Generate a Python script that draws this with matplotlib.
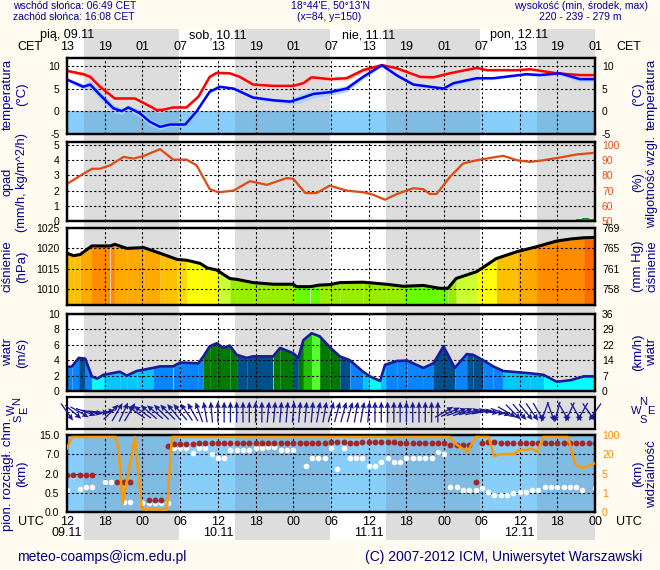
import numpy as np
import matplotlib
matplotlib.use("Agg")
import matplotlib.pyplot as plt
from matplotlib.transforms import blended_transform_factory

plt.rcParams['font.family'] = ['Liberation Sans', 'DejaVu Sans']
plt.rcParams['axes.unicode_minus'] = False

# ------------------------------------------------------------------ data
# time axis: hours since 12 UTC 09.11
tick_hours = list(range(0, 85, 6))
utc_labels = ['12', '18', '00', '06', '12', '18', '00', '06', '12', '18', '00', '06', '12', '18', '00']
cet_labels = ['13', '19', '01', '07', '13', '19', '01', '07', '13', '19', '01', '07', '13', '19', '01']
day_hours = [0, 24, 48, 72]
day_names = ['pią, 09.11', 'sob, 10.11', 'nie, 11.11', 'pon, 12.11']
date_labels = ['09.11', '10.11', '11.11', '12.11']
night_start = [2.7, 26.7, 50.7, 74.7]
night_end = [17.8, 41.8, 65.7, 84.0]

# temperature (red) with spread
temp_h = [0, 2.6, 3.7, 5.25, 7.6, 10.8, 13.7, 14.2, 15.3, 16.9, 19.0, 20.9, 22.7, 23.8, 25.9, 27.5,
          29.6, 32.8, 36.0, 37.6, 38.9, 41.8, 44.5, 47.1, 50.1, 52.5, 56.2, 58.3, 60.9, 65.2, 66.8,
          71.6, 73.7, 77.9, 81.6, 84]
temp_v = [8.95, 8.2, 7.6, 5.4, 2.8, 2.8, 0.7, 0.2, 0.3, 0.8, 0.8, 3.2, 7.6, 8.5, 8.4, 7.6,
          5.9, 5.6, 5.6, 6.2, 7.5, 7.1, 7.3, 9.1, 10.2, 9.5, 7.6, 7.5, 8.4, 9.6, 9.1,
          9.1, 9.3, 8.4, 8.0, 8.0]
temp_sp = [0.3, 0.5, 0.8, 0.8, 0.4, 0.3, 0.4, 0.5, 0.5, 0.3, 0.3, 0.3, 0.3, 0.3, 0.3, 0.3,
           0.3, 0.3, 0.5, 0.9, 0.7, 0.4, 0.6, 0.6, 0.5, 0.3, 0.3, 0.3, 0.3, 0.3, 0.3,
           0.3, 0.3, 0.4, 0.5, 0.4]
# dew point (blue) with spread
dew_h = [0, 2.6, 3.7, 5.25, 7.4, 8.7, 9.75, 11.6, 13.2, 14.8, 16.4, 18.8, 20.6, 22.7, 24.3, 26.5,
         29.6, 32.8, 35.5, 37.1, 39.2, 41.8, 44.5, 47.1, 50.1, 52.5, 55.1, 56.7, 59.9, 61.5, 65.2,
         67.8, 73.1, 75.2, 78.4, 81.6, 84]
dew_v = [7.0, 5.4, 5.9, 3.6, 0.6, 0.0, 0.8, -0.5, -2.4, -3.5, -3.0, -3.0, -0.1, 4.3, 5.4, 5.0,
         3.0, 2.4, 2.1, 2.8, 3.8, 4.2, 5.0, 7.6, 10.2, 7.9, 5.9, 5.6, 5.0, 6.2, 7.3,
         7.3, 8.2, 8.0, 8.4, 7.1, 7.1]
dew_sp = [0.3, 0.6, 0.9, 1.0, 0.9, 0.7, 0.6, 0.8, 0.7, 0.6, 0.4, 0.3, 0.3, 0.3, 0.3, 0.3,
          0.4, 0.4, 0.6, 1.0, 0.9, 0.7, 0.7, 0.5, 0.3, 0.3, 0.3, 0.4, 0.5, 0.6, 0.4,
          0.3, 0.3, 0.3, 0.4, 0.6, 0.5]

# relative humidity (%)
hum_h = [0, 2.6, 4.0, 5.25, 6.9, 9.0, 10.6, 12.2, 14.8, 16.9, 19.0, 20.6, 22.7, 24.1, 26.5, 29.1,
         31.8, 34.9, 36.0, 37.9, 39.7, 41.8, 44.5, 47.1, 48.7, 50.6, 52.5, 55.1, 56.7, 57.7, 58.8,
         60.9, 63.0, 65.2, 68.3, 69.4, 71.6, 73.7, 75.8, 79.0, 81.1, 84]
hum_v = [74.4, 81.1, 84.4, 84.4, 86.7, 92.2, 91.1, 92.8, 97.3, 90.4, 90.4, 86.7, 71.0, 68.9, 70.0, 76.2,
         73.8, 78.2, 77.8, 68.4, 68.4, 73.3, 70.0, 68.9, 67.3, 64.0, 67.8, 71.6, 70.9, 67.8, 67.8,
         78.9, 87.8, 90.0, 92.2, 92.9, 90.0, 88.9, 90.0, 92.2, 93.8, 94.9]
# precipitation (mm/h), hourly
prec_h = [68, 70, 80, 81, 82, 83]
prec_v = [0.08, 0.07, 0.07, 0.12, 0.2, 0.15]

# pressure (hPa)
pres_h = [0, 1.06, 2.1, 3.95, 6.9, 7.6, 9.5, 12.2, 14.8, 17.5, 19.0, 21.2, 22.3, 23.8, 25.9, 27.0,
          29.6, 32.8, 36.0, 36.5, 38.7, 40.2, 41.8, 43.4, 47.1, 50.8, 53.5, 56.7, 59.3, 60.6, 61.9,
          65.2, 68.3, 71.6, 74.7, 77.9, 80.1, 82.2, 84]
pres_v = [1018.8, 1018.2, 1018.5, 1020.6, 1020.6, 1021.0, 1020.0, 1020.2, 1018.8, 1017.3, 1017.1,
          1016.3, 1015.2, 1014.7, 1012.6, 1012.4, 1011.6, 1011.2, 1011.2, 1010.6, 1010.6, 1011.0,
          1011.1, 1011.6, 1011.7, 1011.2, 1010.7, 1010.9, 1010.2, 1010.2, 1012.6, 1014.3, 1017.5,
          1019.2, 1020.4, 1021.8, 1022.3, 1022.6, 1022.7]
pres_levels = [1010.8, 1013.0, 1014.8, 1016.8, 1017.6, 1018.6, 1020.5, 1022.5]
pres_colors = ['#66FF00', '#99EE00', '#CCFF33', '#FFFF00', '#FFD700', '#FFC000', '#FFAA00',
               '#FF8C00', '#FF6A00']
mmhg_labels = ['758', '761', '765', '769']

# wind speed (m/s)
wind_h = [0, 0.8, 1.86, 2.9, 3.95, 4.8, 5.8, 8.4, 9.5, 11.1, 13.7, 14.8, 16.9, 18.0, 20.9, 21.7,
          22.7, 23.8, 24.9, 25.9, 27.0, 28.6, 29.6, 32.8, 33.9, 36.0, 36.8, 37.6, 38.9, 40.2, 41.8,
          43.4, 45.0, 47.1, 48.2, 49.8, 50.6, 52.5, 54.1, 56.7, 58.3, 59.9, 61.7, 63.6, 64.6, 66.2,
          67.8, 69.4, 73.7, 75.8, 77.9, 80.1, 82.2, 84]
wind_v = [3.1, 3.2, 4.3, 4.2, 1.9, 1.6, 2.1, 2.5, 2.0, 2.6, 3.0, 3.2, 3.2, 3.7, 3.6, 4.5,
          5.8, 6.2, 5.6, 5.9, 4.7, 4.3, 4.5, 4.5, 5.6, 4.9, 4.3, 6.6, 7.5, 7.1, 5.7,
          4.5, 4.0, 2.5, 1.9, 1.3, 3.4, 3.9, 3.95, 3.0, 3.6, 5.8, 3.0, 4.8, 4.7, 4.0,
          3.2, 2.6, 2.3, 2.1, 1.2, 1.4, 1.9, 1.9]
wind_levels = [2.0, 2.9, 4.2, 5.0, 6.5, 7.2]
wind_colors = ['#00FFFF', '#00C8FF', '#0A84FF', '#00508C', '#007A00', '#22C000', '#55FF33']
kmh_labels = ['0', '7', '14', '22', '29', '36']

# wind direction, hourly (arrow points to, degrees clockwise from north)
dir_deg = [145, 130, 120, 110, 100, 95, 80, 45, 30, 25, 30,
           305, 305, 310, 310, 315, 315, 320, 320, 325, 330, 340, 350,
           355, 0, 0, 0, 0, 0, 0, 0, 0, 5, 5, 5, 5, 5, 5, 5, 5, 10, 10,
           15, 15, 15, 15, 10, 10, 5,
           0, 0, 0, 0, 0, 0, 0, 0, 0, 0, 0,
           60, 65, 70, 70, 75, 75, 80,
           95, 100, 110, 120,
           135, 140, 140, 145, 150, 200, 160, 195, 150, 205, 150, 210, 145, 215]

# visibility (km)
vis_h = [0, 0.8, 7.8, 8.2, 8.85, 10.8, 11.9, 15.9, 16.7, 60.8, 62.1, 63.7, 65.0, 67.1, 67.9, 69.0,
         71.1, 71.9, 73.2, 73.9, 74.8, 75.8, 79.7, 80.8, 81.9, 84]
vis_v = [44, 92, 92, 38, 0.42, 92, 0.14, 0.12, 92, 92, 58, 30, 92, 92, 18.5, 21,
         21, 38, 38, 44, 30, 92, 92, 13, 9, 13]
nan = float('nan')
# cloud top (dark red) and cloud base (white), km, hourly h = 0..84
cloud_top = [1.9, 1.9, 1.9, 1.9, 1.9, nan, nan, nan, 1.36, 1.36, 1.36, nan, nan, 0.32, 0.32, 0.32,
             10.5, 11.2, 11.3, 11.3, 11.3, 11.8, 11.8, 11.8, 11.8, 11.8, 11.8, 11.8, 11.8, 11.8, 11.8,
             11.8, 11.8, 11.8, 11.8, 11.8, 11.8, 11.8, 11.8, 11.8, 11.8, 11.8,
             12.2, 12.2, 12.2, 11.5, 11.5, 12.2, 12.2, 12.2, 12.2, 12.2, 12.2, 11.5, 11.5, 11.5, 11.5,
             11.5, 11.5, 11.5, 11.5, 10.8, 10.8, 10.8, 10.8, 1.36, 11.5, 12.2, 12.2, 11.5, 11.5, 11.5,
             11.5, 11.5, 11.5, 11.5, 11.5, 11.5, 11.5, 11.5, 11.5, 11.5, 11.5, 11.5, 11.5]
cloud_base = [0.71, 1.8, 0.77, 0.97, 0.97, nan, 1.36, 1.36, 1.3, 0.27, 0.27, nan, 0.23, 0.23, 0.23,
              0.23, 0.23, 9.5, 9.5, 9.5, 7.6, 9.5, 9.8, 7.1, 5.95, 5.95, 8.8, 8.8, 8.8, 8.8, 9.5,
              9.5, 10.0, 10.0, 8.8, 8.8, 8.8, nan, 3.95, 5.95, 5.95, 5.95,
              9.5, 3.1, 9.5, 5.95, 5.95, 5.95, 3.95, 3.95, 4.9, 5.95, 4.9, 4.9, 5.95, 5.95, 5.95,
              5.95, 5.95, 7.8, 7.1, 0.97, 0.97, 0.71, 0.71, 0.75, 0.85, 0.53, 0.44, 0.44, 0.44, 0.5,
              0.57, 0.57, 0.7, 0.7, 0.97, 0.97, 0.97, 0.97, 0.97, 0.97, 0.7, nan, 0.9]
cloud_levels = [0.0, 0.5, 2.0, 7.0, 15.0]
cloud_ticklabels = ['0.0', '0.5', '2.0', '7.0', '15.0']
vis_levels = [0, 1, 5, 20, 100]

# ------------------------------------------------------------------ style
W, H = 660, 570
X0, X1 = 67, 595
CREAM = '#FFFBF0'
GREY = '#DDDDDD'
NAVY = '#00008B'
DAYBLUE = '#87CEFA'
NIGHTBLUE = '#7FBBE3'

fig = plt.figure(figsize=(W / 100, H / 100), dpi=100)
fig.patch.set_facecolor(CREAM)


def fy(y):
    return 1 - y / H


def add_ax(top, bottom, **kw):
    return fig.add_axes([X0 / W, 1 - bottom / H, (X1 - X0) / W, (bottom - top) / H], **kw)


def ftext(x, y, s, **kw):
    fig.text(x / W, fy(y), s, **kw)


segments = []
prev = 0.0
for a, b in zip(night_start, night_end):
    segments.append((prev, a, 'day'))
    segments.append((a, b, 'night'))
    prev = b
if prev < 84:
    segments.append((prev, 84, 'day'))


def style(ax, yt, ylim, labels=None):
    ax.set_xlim(0, 84)
    ax.set_ylim(*ylim)
    ax.set_facecolor('none')
    ax.set_xticks(tick_hours)
    ax.set_yticks(yt)
    if labels is not None:
        ax.set_yticklabels(labels)
    ax.tick_params(length=0, labelbottom=False, labelsize=7.5, pad=5.5)
    for s in ax.spines.values():
        s.set_linewidth(1.6)
        s.set_color('black')
    ax.set_axisbelow('line')
    ax.grid(True, color='black', linestyle=(0, (2, 2)), linewidth=0.8)


def twin(ax, ylim, yt, labels, color='black'):
    t = ax.twinx()
    t.set_ylim(*ylim)
    t.set_yticks(yt)
    t.set_yticklabels(labels, color=color)
    t.tick_params(length=0, labelsize=7.5, pad=5)
    for s in t.spines.values():
        s.set_linewidth(1.6)
    return t


# background column with night shading
axbg = fig.add_axes([X0 / W, fy(540), (X1 - X0) / W, (540 - 29) / H], zorder=-10)
axbg.set_xlim(0, 84)
axbg.set_ylim(0, 1)
axbg.axis('off')
axbg.axvspan(0, 84, color='white', lw=0, zorder=0)
for a, b in zip(night_start, night_end):
    axbg.axvspan(a, b, color=GREY, lw=0, zorder=1)

tr = blended_transform_factory(axbg.transData, fig.transFigure)
for h, s in zip(day_hours, day_names):
    axbg.text(h, fy(35), s, transform=tr, ha='center', va='center', fontsize=9)
for h, s in zip(tick_hours, cet_labels):
    axbg.text(h, fy(46.5), s, transform=tr, ha='center', va='center', fontsize=9)
for h, s in zip(tick_hours, utc_labels):
    axbg.text(h, fy(522), s, transform=tr, ha='center', va='center', fontsize=9)
for h, s in zip(day_hours, date_labels):
    axbg.text(h, fy(533.5), s, transform=tr, ha='center', va='center', fontsize=9)
ftext(30, 46.5, 'CET', ha='center', va='center', fontsize=9)
ftext(629, 46.5, 'CET', ha='center', va='center', fontsize=9)
ftext(31, 522, 'UTC', ha='center', va='center', fontsize=9)
ftext(629, 522, 'UTC', ha='center', va='center', fontsize=9)

# header & footer
HC = '#0000A0'
ftext(13, 6, 'wschód słońca: 06:49 CET', ha='left', va='center', fontsize=7.5, color=HC)
ftext(13, 17, 'zachód słońca: 16:08 CET', ha='left', va='center', fontsize=7.5, color=HC)
ftext(331, 6, "18°44'E, 50°13'N", ha='center', va='center', fontsize=7.5, color=HC)
ftext(329, 17, '(x=84, y=150)', ha='center', va='center', fontsize=7.5, color=HC)
ftext(648, 6, 'wysokość (min, środek, max)', ha='right', va='center', fontsize=7.5, color=HC)
ftext(580, 17, '220 - 239 - 279 m', ha='center', va='center', fontsize=7.5, color=HC)
ftext(17, 557, 'meteo-coamps@icm.edu.pl', ha='left', va='center', fontsize=10, color='#000080')
ftext(642, 557, '(C) 2007-2012 ICM, Uniwersytet Warszawski', ha='right', va='center',
      fontsize=10, color='#000080')


def side_labels(yc, l1, l2, r1, r2, size=9.5):
    kw = dict(rotation=90, ha='center', va='center', fontsize=size, color=NAVY)
    ftext(8, yc, l1, **kw)
    ftext(22, yc, l2, **kw)
    ftext(638, yc, r1, **kw)
    ftext(652, yc, r2, **kw)


# ---------------------------------------------------------- temperature
ax1 = add_ax(58, 134)
style(ax1, [-5, 0, 5, 10], (-5.1, 11.8))
for a, b, k in segments:
    ax1.fill_between([a, b], -5.1, 0, color=DAYBLUE if k == 'day' else NIGHTBLUE, lw=0, zorder=0.5)
tv, ts = np.array(temp_v), np.array(temp_sp)
dv, ds = np.array(dew_v), np.array(dew_sp)
ax1.fill_between(temp_h, tv - ts, tv + ts, color='#FFCCCC', lw=0, zorder=1, alpha=0.9)
ax1.fill_between(dew_h, dv - ds, dv + ds, color='#A8D4FF', lw=0, zorder=1, alpha=0.9)
ax1.plot(temp_h, temp_v, color='#FF0000', lw=1.8, zorder=3)
ax1.plot(dew_h, dew_v, color='#0000FF', lw=1.8, zorder=3)
t1 = twin(ax1, (-5.1, 11.8), [-5, 0, 5, 10], ['-5', '0', '5', '10'])
side_labels(94, 'temperatura', '(°C)', '(°C)', 'temperatura')

# ---------------------------------------------------------- precip / humidity
ax2 = add_ax(142, 221)
style(ax2, [0, 1, 2, 3, 4, 5], (0, 5.2))
ax2.bar(prec_h, prec_v, width=1.0, align='edge', color='#00A000', lw=0, zorder=3)
t2 = twin(ax2, (50, 102), [50, 60, 70, 80, 90, 100], ['50', '60', '70', '80', '90', '100'],
          color='#E8501E')
t2.plot(hum_h, hum_v, color='#E04A10', lw=1.6)
side_labels(182, 'opad', '(mm/h, kg/m^2/h)', '(%)', 'wilgotność wzgl.', size=9.2)

# ---------------------------------------------------------- pressure
ax3 = add_ax(228, 305)
plim = (1006.1, 1025)
style(ax3, [1010, 1015, 1020, 1025], plim)
for i in range(len(pres_h) - 1):
    m = 0.5 * (pres_v[i] + pres_v[i + 1])
    c = pres_colors[int(np.searchsorted(pres_levels, m))]
    ax3.fill_between(pres_h[i:i + 2], plim[0], pres_v[i:i + 2], color=c, lw=0, zorder=1)
ax3.plot(pres_h, pres_v, color='black', lw=2.2, zorder=3)
t3 = twin(ax3, plim, [1010, 1015, 1020, 1025], mmhg_labels)
side_labels(266.5, 'ciśnienie', '(hPa)', '(mm Hg)', 'ciśnienie')

# ---------------------------------------------------------- wind speed
ax4 = add_ax(314, 391)
style(ax4, [0, 2, 4, 6, 8, 10], (0, 10))
for i in range(len(wind_h) - 1):
    m = 0.5 * (wind_v[i] + wind_v[i + 1])
    c = wind_colors[int(np.searchsorted(wind_levels, m))]
    ax4.fill_between(wind_h[i:i + 2], 0, wind_v[i:i + 2], color=c, lw=0, zorder=1)
ax4.plot(wind_h, wind_v, color='#1A1A9A', lw=1.9, zorder=3)
t4 = twin(ax4, (0, 10), [0, 2, 4, 6, 8, 10], kmh_labels)
side_labels(352.5, 'wiatr', '(m/s)', '(km/h)', 'wiatr')

# ---------------------------------------------------------- wind direction
ax5 = add_ax(397, 429)
style(ax5, [0.53], (0, 1))
ax5.set_yticklabels([])
hrs = np.arange(len(dir_deg))
rad = np.deg2rad(dir_deg)
ax5.quiver(hrs, np.full(len(hrs), 0.53), np.sin(rad), np.cos(rad), angles='uv',
           scale_units='dots', scale=1 / 21.0, pivot='middle', units='dots', width=1.3,
           headwidth=4.5, headlength=5, headaxislength=4.5, color='#1A1A9A', clip_on=False,
           zorder=4)
for x, y, s in [(643, 402, 'N'), (636, 411, 'W'), (651, 411, 'E'), (643, 420, 'S')]:
    ftext(x, y, s, ha='center', va='center', fontsize=8, color=NAVY)
for x, y, s in [(17, 401, 'N'), (12, 410, 'W'), (24, 410, 'E'), (18, 418, 'S')]:
    ftext(x, y, s, ha='center', va='center', fontsize=8, color=NAVY, rotation=90)


# ---------------------------------------------------------- clouds / visibility
def piecewise(levels):
    lv = np.asarray(levels, float)
    pos = np.arange(len(lv), dtype=float)

    def fwd(x):
        x = np.asarray(x, float)
        y = np.interp(x, lv, pos)
        y = np.where(x > lv[-1], pos[-1] + (x - lv[-1]) / (lv[-1] - lv[-2]), y)
        y = np.where(x < lv[0], (x - lv[0]) / (lv[1] - lv[0]), y)
        return y

    def inv(y):
        y = np.asarray(y, float)
        x = np.interp(y, pos, lv)
        x = np.where(y > pos[-1], lv[-1] + (y - pos[-1]) * (lv[-1] - lv[-2]), x)
        x = np.where(y < 0, lv[0] + y * (lv[1] - lv[0]), x)
        return x
    return fwd, inv


ax6 = add_ax(435, 512)
ax6.set_yscale('function', functions=piecewise(cloud_levels))
style(ax6, cloud_levels, (0, 15), cloud_ticklabels)
ax6.yaxis.set_minor_locator(matplotlib.ticker.NullLocator())
for a, b, k in segments:
    ax6.axvspan(a, b, color=DAYBLUE if k == 'day' else NIGHTBLUE, lw=0, zorder=0.5)
hh = np.arange(len(cloud_top))
ax6.scatter(hh, cloud_base, s=16, color='white', lw=0, zorder=3)
ax6.scatter(hh, cloud_top, s=18, color='#A02828', lw=0, zorder=3)
t6 = ax6.twinx()
t6.set_yscale('function', functions=piecewise(vis_levels))
t6.set_ylim(0, 100)
t6.set_yticks(vis_levels)
t6.set_yticklabels([str(v) for v in vis_levels], color='#FF8C00')
t6.yaxis.set_minor_locator(matplotlib.ticker.NullLocator())
t6.tick_params(length=0, labelsize=7.5, pad=5)
for s in t6.spines.values():
    s.set_linewidth(1.6)
t6.plot(vis_h, vis_v, color='#FF9900', lw=1.8, zorder=4)
side_labels(474, 'pion. rozciągł. chm.', '(km)', '(km)', 'widzialność')

fig.savefig('out.png', dpi=100, facecolor=CREAM)
